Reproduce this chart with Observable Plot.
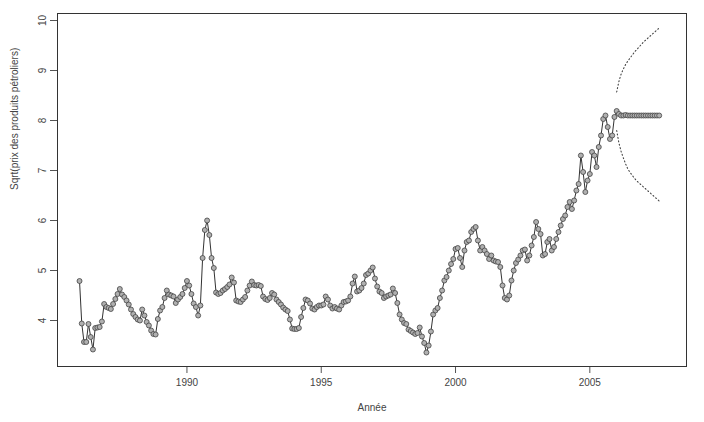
<!DOCTYPE html>
<html><head><meta charset="utf-8">
<script src="https://cdn.jsdelivr.net/npm/d3@7"></script>
<script src="https://cdn.jsdelivr.net/npm/@observablehq/plot@0.6"></script>
<style>body{margin:0;background:#fff}</style>
</head><body><div id="chart"></div>
<script>
// Monthly observed values, sqrt(petroleum product prices), Jan 1986 - Dec 2005
const startYear = 1986;
const y1986 = [4.79, 3.94, 3.57, 3.57, 3.93, 3.67, 3.42, 3.85, 3.86, 3.87, 3.98, 4.33];
const y1987 = [4.27, 4.25, 4.23, 4.33, 4.43, 4.53, 4.63, 4.52, 4.47, 4.40, 4.32, 4.22];
const y1988 = [4.13, 4.07, 4.02, 4.00, 4.22, 4.10, 3.97, 3.90, 3.80, 3.73, 3.72, 4.03];
const y1989 = [4.20, 4.27, 4.45, 4.60, 4.52, 4.50, 4.48, 4.35, 4.42, 4.47, 4.53, 4.65];
const y1990 = [4.79, 4.70, 4.53, 4.34, 4.27, 4.10, 4.30, 5.25, 5.81, 6.00, 5.71, 5.25];
const y1991 = [5.05, 4.56, 4.53, 4.55, 4.60, 4.63, 4.67, 4.72, 4.86, 4.76, 4.40, 4.38];
const y1992 = [4.37, 4.42, 4.47, 4.60, 4.70, 4.78, 4.71, 4.70, 4.71, 4.69, 4.48, 4.43];
const y1993 = [4.41, 4.45, 4.55, 4.52, 4.42, 4.37, 4.32, 4.26, 4.22, 4.19, 4.02, 3.84];
const y1994 = [3.83, 3.83, 3.85, 4.07, 4.25, 4.42, 4.40, 4.34, 4.24, 4.22, 4.27, 4.30];
const y1995 = [4.30, 4.32, 4.48, 4.42, 4.30, 4.24, 4.27, 4.24, 4.22, 4.30, 4.37, 4.38];
const y1996 = [4.40, 4.48, 4.74, 4.88, 4.58, 4.60, 4.65, 4.74, 4.91, 4.94, 5.00, 5.06];
const y1997 = [4.84, 4.68, 4.58, 4.55, 4.45, 4.48, 4.50, 4.52, 4.64, 4.55, 4.35, 4.12];
const y1998 = [4.02, 3.95, 3.93, 3.82, 3.79, 3.76, 3.73, 3.75, 3.86, 3.68, 3.55, 3.36];
const y1999 = [3.50, 3.78, 4.12, 4.20, 4.25, 4.45, 4.60, 4.80, 4.87, 5.00, 5.13, 5.23];
const y2000 = [5.43, 5.45, 5.25, 5.07, 5.40, 5.57, 5.60, 5.77, 5.83, 5.87, 5.60, 5.40];
const y2001 = [5.47, 5.40, 5.33, 5.23, 5.30, 5.20, 5.18, 5.17, 5.07, 4.70, 4.45, 4.42];
const y2002 = [4.50, 4.80, 5.00, 5.15, 5.22, 5.30, 5.40, 5.42, 5.20, 5.30, 5.50, 5.67];
const y2003 = [5.97, 5.83, 5.73, 5.30, 5.33, 5.57, 5.63, 5.40, 5.47, 5.63, 5.77, 5.90];
const y2004 = [6.03, 6.10, 6.27, 6.37, 6.23, 6.40, 6.60, 6.73, 7.30, 6.97, 6.57, 6.80];
const y2005 = [6.93, 7.37, 7.30, 7.07, 7.47, 7.70, 8.03, 8.10, 7.87, 7.63, 7.70, 8.07];

// Forecast, Jan 2006 onwards, with bounds
const fcStart = 2006;
const fcMean  = [8.19, 8.13, 8.10, 8.10, 8.11, 8.10, 8.10, 8.10, 8.10, 8.10, 8.10, 8.10, 8.10, 8.10, 8.10, 8.10, 8.10, 8.10, 8.10, 8.10];
const fcUpper = [8.57, 8.78, 8.93, 9.03, 9.12, 9.19, 9.25, 9.31, 9.37, 9.42, 9.47, 9.52, 9.57, 9.61, 9.65, 9.69, 9.73, 9.77, 9.81, 9.85];
const fcLower = [7.80, 7.55, 7.38, 7.25, 7.13, 7.03, 6.96, 6.90, 6.84, 6.79, 6.75, 6.71, 6.67, 6.63, 6.59, 6.55, 6.51, 6.47, 6.43, 6.39];

const xTicks = [1990, 1995, 2000, 2005];
const yTicks = [4, 5, 6, 7, 8, 9, 10];
const xLabel = "Année";
const yLabel = "Sqrt(prix des produits pétroliers)";

const observed = [].concat(y1986, y1987, y1988, y1989, y1990, y1991, y1992, y1993, y1994, y1995,
  y1996, y1997, y1998, y1999, y2000, y2001, y2002, y2003, y2004, y2005);
const obsData = observed.map((v, i) => ({t: startYear + i / 12, v}));
const fcData = fcMean.map((v, i) => ({t: fcStart + i / 12, v, lo: fcLower[i], hi: fcUpper[i]}));
const lineData = obsData.concat(fcData);

const chart = Plot.plot({
  width: 704, height: 422,
  marginLeft: 57, marginRight: 18, marginTop: 13, marginBottom: 56,
  style: {fontFamily: "'Liberation Sans', Arial, sans-serif", fontSize: "10px", color: "#444", background: "#fff"},
  x: {domain: [1985.18, 2008.6]},
  y: {domain: [3.08, 10.14]},
  marks: [
    Plot.axisX({ticks: xTicks, tickSize: 7, tickPadding: 5, tickFormat: d => String(d), label: null, stroke: "#555"}),
    Plot.axisY({ticks: yTicks, tickSize: 7, tickPadding: 5, tickRotate: -90, tickFormat: d => String(d), label: null, stroke: "#555"}),
    Plot.frame({stroke: "#333"}),
    Plot.line(fcData, {x: "t", y: "hi", stroke: "#444", strokeWidth: 1.1, strokeDasharray: "1,2.5"}),
    Plot.line(fcData, {x: "t", y: "lo", stroke: "#444", strokeWidth: 1.1, strokeDasharray: "1,2.5"}),
    Plot.line(lineData, {x: "t", y: "v", stroke: "#333", strokeWidth: 1}),
    Plot.dot(lineData, {x: "t", y: "v", r: 2.5, stroke: "#444", strokeWidth: 0.8, fill: "#b0b0b0"}),
    Plot.text([xLabel], {text: d => d, frameAnchor: "bottom", dy: 44, fill: "#444"}),
    Plot.text([yLabel], {text: d => d, frameAnchor: "left", dx: -43, rotate: -90, fill: "#444"})
  ]
});
document.getElementById("chart").appendChild(chart);
</script>
</body></html>
